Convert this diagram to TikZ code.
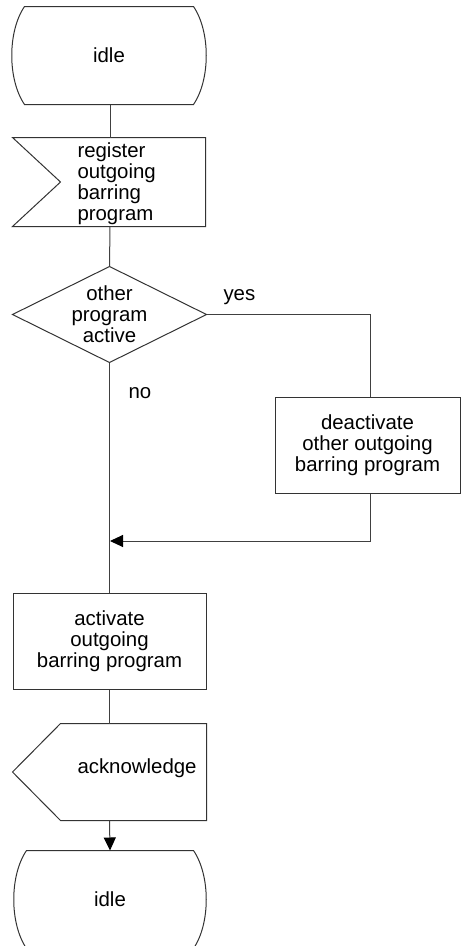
\documentclass[tikz,border=0pt]{standalone}
\usepackage{fontspec}
\setmainfont{Liberation Sans}
\usetikzlibrary{arrows.meta}
\begin{document}
\begin{tikzpicture}[x=1pt,y=-1pt,line width=1pt,
  every node/.style={font=\fontsize{20.4}{21}\selectfont},
  frame/.style={draw=none,rectangle,inner sep=0pt},
  outline/.style={draw=black!80,line width=1pt},
  boxnode/.style={draw=black!80,rectangle,inner sep=0pt,align=center},
  txt/.style={inner sep=0pt,align=left},
  conn/.style={draw=black!75,line width=1pt},
  tip/.style={-{Triangle[length=13pt,width=12pt,black]}}
]
\useasboundingbox (0,0) rectangle (461,946);

% top state
\node[frame,minimum width=168pt,minimum height=97pt] (idle1) at (109,55.5) {idle};
\draw[outline] (idle1.north west) -- (idle1.north east)
  .. controls +(17,25) and +(17,-25) .. (idle1.south east)
  -- (idle1.south west)
  .. controls +(-17,-25) and +(-17,25) .. (idle1.north west) -- cycle;

% input signal
\node[frame,minimum width=192pt,minimum height=88pt] (reg) at (109,182) {};
\draw[outline] (reg.north west) -- (reg.north east) -- (reg.south east) -- (reg.south west)
  -- ([xshift=48pt]reg.west) -- cycle;
\node[txt,anchor=west] (regtxt) at (77,184) {register\\outgoing\\barring\\program};

% decision
\node[frame,minimum width=193pt,minimum height=95pt,align=center] (dec) at (109.5,314.5) {other\\program\\active};
\draw[outline] (dec.north) -- (dec.east) -- (dec.south) -- (dec.west) -- cycle;

% deactivate
\node[boxnode,minimum width=185pt,minimum height=96pt] (deact) at (367.5,445) {deactivate\\other outgoing\\barring program};

% activate
\node[boxnode,minimum width=193pt,minimum height=96pt] (act) at (109.5,641) {activate\\outgoing\\barring program};

% output signal
\node[frame,minimum width=193pt,minimum height=96pt] (ack) at (109.5,772) {};
\draw[outline] (ack.north east) -- (ack.south east) -- ([xshift=48pt]ack.south west)
  -- (ack.west) -- ([xshift=48pt]ack.north west) -- cycle;
\node[txt,anchor=west] (acktxt) at (77,768) {acknowledge};

% bottom state
\node[frame,minimum width=166pt,minimum height=97pt] (idle2) at (110,899.5) {idle};
\draw[outline] (idle2.north west) -- (idle2.north east)
  .. controls +(17,25) and +(17,-25) .. (idle2.south east)
  -- (idle2.south west)
  .. controls +(-17,-25) and +(-17,25) .. (idle2.north west) -- cycle;

% labels
\node[txt,anchor=west] (yes) at (223,297) {yes};
\node[txt,anchor=west] (no) at (128,393) {no};

% connectors
\coordinate (merge) at (110,541);
\draw[conn] (idle1.south -| 110,0) -- (reg.north -| 110,0);
\draw[conn] (reg.south -| 110,0) -- (dec.north);
\draw[conn] (dec.east) -| (deact.north -| 370,0);
\draw[conn,tip] (deact.south -| 370,0) |- (merge);
\draw[conn] (dec.south) -- (act.north);
\draw[conn] (act.south) -- (ack.north);
\draw[conn,tip] (ack.south) -- (idle2.north);
\end{tikzpicture}
\end{document}
